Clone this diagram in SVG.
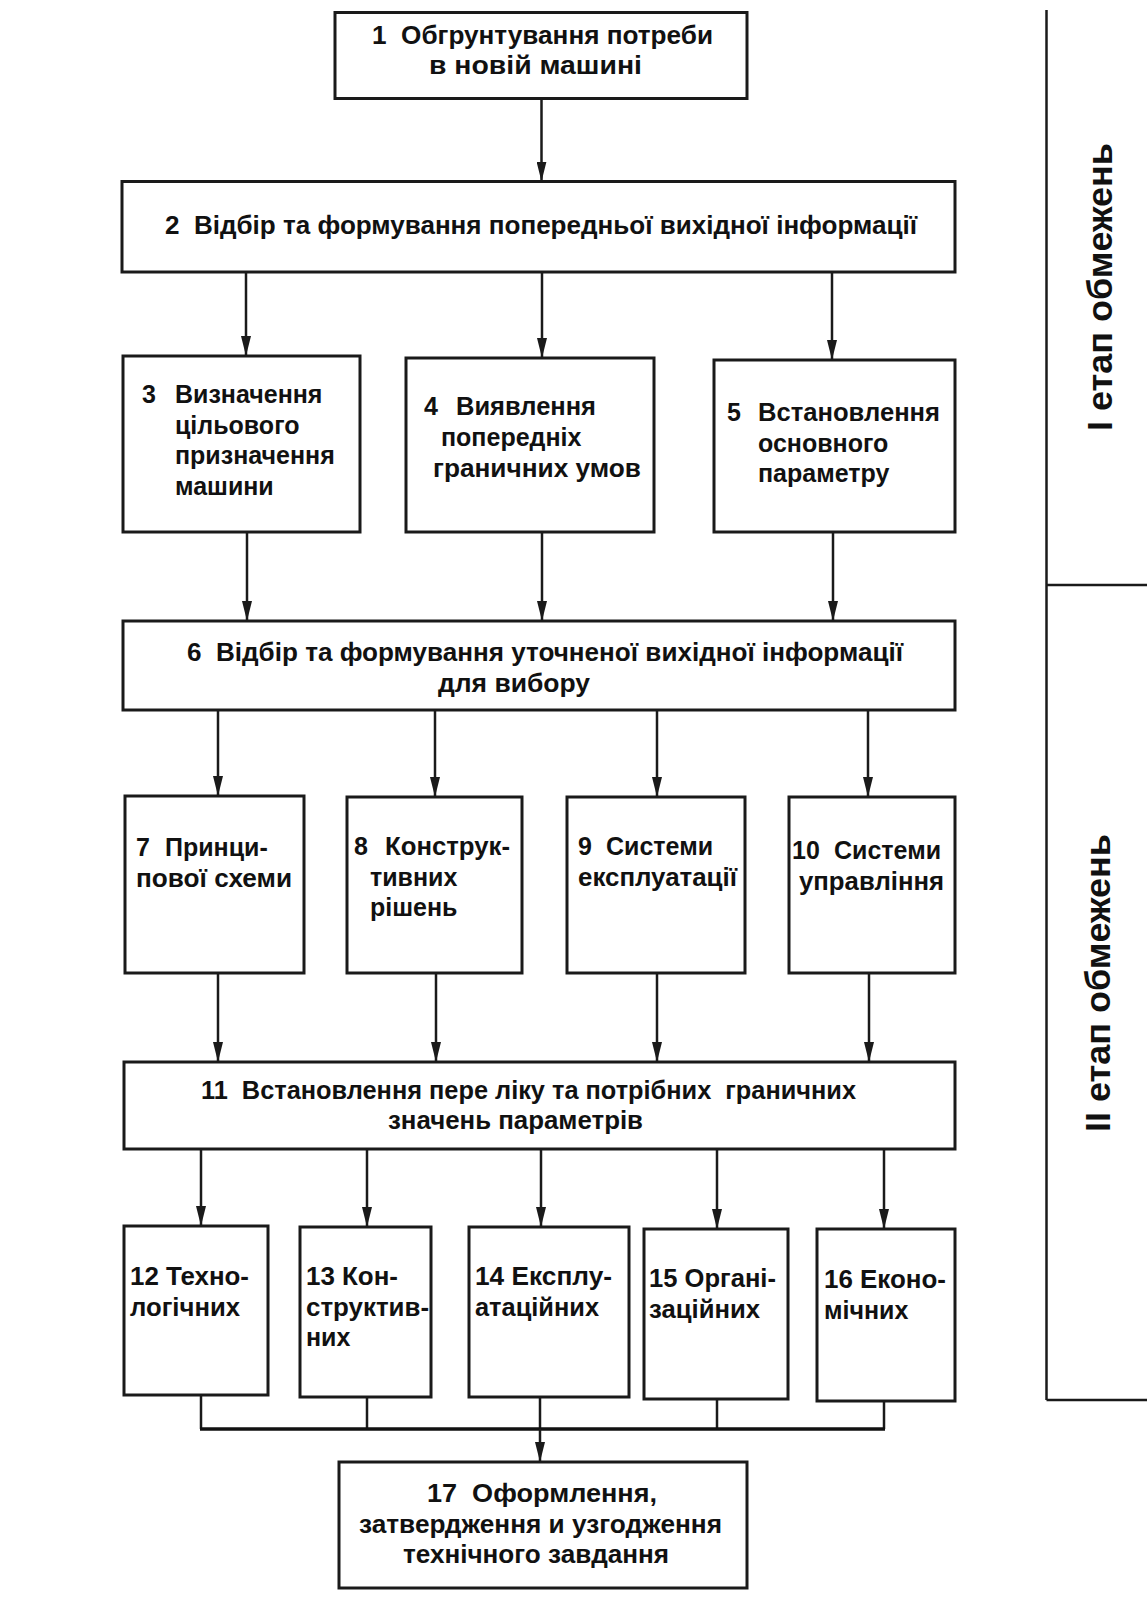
<svg xmlns="http://www.w3.org/2000/svg" width="1147" height="1608" viewBox="0 0 1147 1608">
<style>
.box{fill:#fff;stroke:#1a1a1a;stroke-width:3}
.t{font-family:"Liberation Sans",Arial,sans-serif;font-weight:bold;font-size:25px;fill:#111;white-space:pre}
.c{text-anchor:middle}
.st{font-family:"Liberation Sans",Arial,sans-serif;font-weight:bold;font-size:35px;fill:#111;text-anchor:middle}
.ln{stroke:#1a1a1a;stroke-width:2.5;fill:none}
.ar{stroke:#1a1a1a;stroke-width:2.5;fill:none;marker-end:url(#ah)}
.bus{stroke:#111;stroke-width:3.5;fill:none}
</style>
<defs>
<marker id="ah" markerUnits="userSpaceOnUse" markerWidth="20" markerHeight="10" viewBox="0 0 20 10" refX="20" refY="5" orient="auto">
<path d="M0,0 L20,5 L0,10 z" fill="#1a1a1a"/>
</marker>
</defs>
<rect width="1147" height="1608" fill="#fff"/>

<g id="n1">
<rect class="box" x="335" y="12.5" width="412" height="86"/>
<text class="t" x="372" y="44" textLength="341" lengthAdjust="spacingAndGlyphs">1  Обгрунтування потреби</text>
<text class="t" x="429" y="74" textLength="213" lengthAdjust="spacingAndGlyphs">в новій машині</text>
</g>

<g id="n2">
<rect class="box" x="122" y="181.5" width="833" height="90.5"/>
<text class="t" x="165" y="234" textLength="752" lengthAdjust="spacingAndGlyphs">2  Відбір та формування попередньої вихідної інформації</text>
</g>

<g id="n3">
<rect class="box" x="123" y="356" width="237" height="176"/>
<text class="t"><tspan x="142" y="403">3</tspan><tspan x="175" y="403">Визначення</tspan><tspan x="175" y="433.5">цільового</tspan><tspan x="175" y="464">призначення</tspan><tspan x="175" y="495">машини</tspan></text>
</g>

<g id="n4">
<rect class="box" x="406" y="358" width="248" height="174"/>
<text class="t"><tspan x="424" y="415">4</tspan><tspan x="456" y="415" textLength="140" lengthAdjust="spacingAndGlyphs">Виявлення</tspan><tspan x="441" y="446">попередніх</tspan><tspan x="433" y="477" textLength="208" lengthAdjust="spacingAndGlyphs">граничних умов</tspan></text>
</g>

<g id="n5">
<rect class="box" x="714" y="360" width="241" height="172"/>
<text class="t"><tspan x="727" y="421">5</tspan><tspan x="758" y="421" textLength="182" lengthAdjust="spacingAndGlyphs">Встановлення</tspan><tspan x="758" y="451.5">основного</tspan><tspan x="758" y="482">параметру</tspan></text>
</g>

<g id="n6">
<rect class="box" x="123" y="621" width="832" height="89"/>
<text class="t" x="187" y="661" textLength="716" lengthAdjust="spacingAndGlyphs">6  Відбір та формування уточненої вихідної інформації</text>
<text class="t" x="438" y="691.5" textLength="152" lengthAdjust="spacingAndGlyphs">для вибору</text>
</g>

<g id="n7">
<rect class="box" x="125" y="796" width="179" height="177"/>
<text class="t"><tspan x="136" y="856">7</tspan><tspan x="165" y="856">Принци-</tspan><tspan x="136" y="886.5" textLength="156" lengthAdjust="spacingAndGlyphs">пової схеми</tspan></text>
</g>

<g id="n8">
<rect class="box" x="347" y="797" width="175" height="176"/>
<text class="t"><tspan x="354" y="855">8</tspan><tspan x="385" y="855" textLength="125" lengthAdjust="spacingAndGlyphs">Конструк-</tspan><tspan x="370" y="885.5">тивних</tspan><tspan x="370" y="916">рішень</tspan></text>
</g>

<g id="n9">
<rect class="box" x="567" y="797" width="178" height="176"/>
<text class="t"><tspan x="578" y="855">9</tspan><tspan x="606" y="855">Системи</tspan><tspan x="578" y="885.5" textLength="159" lengthAdjust="spacingAndGlyphs">експлуатації</tspan></text>
</g>

<g id="n10">
<rect class="box" x="789" y="797" width="166" height="176"/>
<text class="t"><tspan x="792" y="859">10</tspan><tspan x="834" y="859">Системи</tspan><tspan x="799" y="889.5" textLength="145" lengthAdjust="spacingAndGlyphs">управління</tspan></text>
</g>

<g id="n11">
<rect class="box" x="124" y="1062" width="831" height="87"/>
<text class="t" x="201" y="1099" textLength="655" lengthAdjust="spacingAndGlyphs">11  Встановлення пере ліку та потрібних  граничних</text>
<text class="t" x="388" y="1129" textLength="255" lengthAdjust="spacingAndGlyphs">значень параметрів</text>
</g>

<g id="n12">
<rect class="box" x="124" y="1226" width="144" height="169"/>
<text class="t"><tspan x="130" y="1285" textLength="119" lengthAdjust="spacingAndGlyphs">12 Техно-</tspan><tspan x="130" y="1315.5" textLength="110" lengthAdjust="spacingAndGlyphs">логічних</tspan></text>
</g>

<g id="n13">
<rect class="box" x="300" y="1227" width="131" height="170"/>
<text class="t"><tspan x="306" y="1285" textLength="92" lengthAdjust="spacingAndGlyphs">13 Кон-</tspan><tspan x="306" y="1315.5" textLength="123" lengthAdjust="spacingAndGlyphs">структив-</tspan><tspan x="306" y="1346">них</tspan></text>
</g>

<g id="n14">
<rect class="box" x="469" y="1227" width="160" height="170"/>
<text class="t"><tspan x="475" y="1285" textLength="137" lengthAdjust="spacingAndGlyphs">14 Експлу-</tspan><tspan x="475" y="1315.5" textLength="124" lengthAdjust="spacingAndGlyphs">атаційних</tspan></text>
</g>

<g id="n15">
<rect class="box" x="644" y="1229" width="144" height="170"/>
<text class="t"><tspan x="649" y="1287" textLength="127" lengthAdjust="spacingAndGlyphs">15 Органі-</tspan><tspan x="649" y="1317.5" textLength="111" lengthAdjust="spacingAndGlyphs">заційних</tspan></text>
</g>

<g id="n16">
<rect class="box" x="817" y="1229" width="138" height="172"/>
<text class="t"><tspan x="824" y="1288" textLength="122" lengthAdjust="spacingAndGlyphs">16 Еконо-</tspan><tspan x="824" y="1318.5">мічних</tspan></text>
</g>

<g id="n17">
<rect class="box" x="339" y="1462" width="408" height="126"/>
<text class="t" x="427" y="1502" textLength="230" lengthAdjust="spacingAndGlyphs">17  Оформлення,</text>
<text class="t" x="359" y="1533" textLength="363" lengthAdjust="spacingAndGlyphs">затвердження и узгодження</text>
<text class="t" x="403" y="1563" textLength="266" lengthAdjust="spacingAndGlyphs">технічного завдання</text>
</g>

<g id="connectors">
<line class="ar" x1="541.5" y1="98.5" x2="541.5" y2="181.5"/>
<line class="ar" x1="246" y1="272" x2="246" y2="356"/>
<line class="ar" x1="542" y1="272" x2="542" y2="358"/>
<line class="ar" x1="832" y1="272" x2="832" y2="360"/>
<line class="ar" x1="247" y1="532" x2="247" y2="621"/>
<line class="ar" x1="542" y1="532" x2="542" y2="621"/>
<line class="ar" x1="833" y1="532" x2="833" y2="621"/>
<line class="ar" x1="218" y1="710" x2="218" y2="796"/>
<line class="ar" x1="435" y1="710" x2="435" y2="797"/>
<line class="ar" x1="657" y1="710" x2="657" y2="797"/>
<line class="ar" x1="868" y1="710" x2="868" y2="797"/>
<line class="ar" x1="218" y1="973" x2="218" y2="1062"/>
<line class="ar" x1="436" y1="973" x2="436" y2="1062"/>
<line class="ar" x1="657" y1="973" x2="657" y2="1062"/>
<line class="ar" x1="869" y1="973" x2="869" y2="1062"/>
<line class="ar" x1="201" y1="1149" x2="201" y2="1226"/>
<line class="ar" x1="367" y1="1149" x2="367" y2="1227"/>
<line class="ar" x1="541" y1="1149" x2="541" y2="1227"/>
<line class="ar" x1="717" y1="1149" x2="717" y2="1229"/>
<line class="ar" x1="884" y1="1149" x2="884" y2="1229"/>
<line class="ln" x1="201" y1="1395" x2="201" y2="1429"/>
<line class="ln" x1="367" y1="1397" x2="367" y2="1429"/>
<line class="ln" x1="540" y1="1397" x2="540" y2="1429"/>
<line class="ln" x1="717" y1="1399" x2="717" y2="1429"/>
<line class="ln" x1="884" y1="1401" x2="884" y2="1429"/>
<line class="bus" x1="200" y1="1429" x2="885" y2="1429"/>
<line class="ar" x1="540" y1="1429" x2="540" y2="1462"/>
</g>

<g id="stages">
<line class="ln" x1="1046.5" y1="10" x2="1046.5" y2="1400"/>
<line class="ln" x1="1046.5" y1="585" x2="1147" y2="585"/>
<line class="ln" x1="1046.5" y1="1400" x2="1147" y2="1400"/>
<text class="st" transform="translate(1112,287) rotate(-90)" textLength="288" lengthAdjust="spacingAndGlyphs">I етап обмежень</text>
<text class="st" transform="translate(1110,983) rotate(-90)" textLength="298" lengthAdjust="spacingAndGlyphs">II етап обмежень</text>
</g>
</svg>
